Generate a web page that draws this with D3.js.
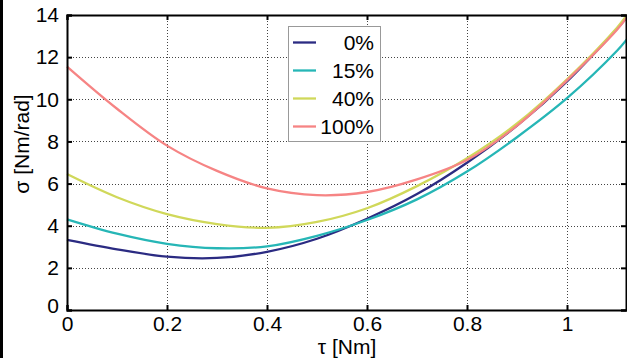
<!DOCTYPE html>
<html>
<head>
<meta charset="utf-8">
<script src="https://cdn.jsdelivr.net/npm/d3@7"></script>
<style>
  body { margin: 0; background: #fff; }
  svg { display: block; font-family: "Liberation Sans", Arial, sans-serif; }
</style>
</head>
<body>
<svg width="627" height="358"></svg>
<script>
// torque samples (x) and stiffness per series (y)
const tau = [0, 0.1, 0.2, 0.3, 0.4, 0.5, 0.6, 0.7, 0.8, 0.9, 1.0, 1.1, 1.12]
const sigma0 = [3.33, 2.88, 2.53, 2.47, 2.76, 3.38, 4.33, 5.5, 6.99, 8.75, 10.85, 13.35, 13.9]
const sigma15 = [4.3, 3.62, 3.14, 2.93, 3.02, 3.52, 4.27, 5.25, 6.57, 8.2, 10.05, 12.3, 12.85]
const sigma40 = [6.45, 5.35, 4.55, 4.08, 3.9, 4.18, 4.83, 5.88, 7.2, 8.85, 10.95, 13.4, 14.0]
const sigma100 = [11.55, 9.55, 7.8, 6.6, 5.77, 5.45, 5.6, 6.2, 7.12, 8.75, 10.9, 13.3, 13.9]
const seriesNames = ["0%", "15%", "40%", "100%"]
const xTicks = [0, 0.2, 0.4, 0.6, 0.8, 1]
const yTicks = [0, 2, 4, 6, 8, 10, 12, 14]

const colors = ["#2b2b82", "#26b6b6", "#d0d85a", "#f68484"]
const allSeries = [sigma0, sigma15, sigma40, sigma100]
const fs = 21

const svg = d3.select("svg")
const m = { left: 67, top: 15, right: 627, bottom: 310 }

const x = d3.scaleLinear().domain([0, 1.12]).range([m.left, m.right])
const y = d3.scaleLinear().domain([0, 14]).range([m.bottom, m.top])

// black strip at left edge
svg.append("rect").attr("x", 0).attr("y", 0).attr("width", 3).attr("height", 358).attr("fill", "#000")

// grid
const grid = svg.append("g").attr("stroke", "#444").attr("stroke-width", 1).attr("stroke-dasharray", "1,2")
grid.selectAll(".gx").data(xTicks.slice(1)).enter().append("line")
	.attr("x1", d => Math.round(x(d)) + 0.5).attr("x2", d => Math.round(x(d)) + 0.5)
	.attr("y1", m.top).attr("y2", m.bottom)
grid.selectAll(".gy").data(yTicks.slice(1, -1)).enter().append("line")
	.attr("y1", d => Math.round(y(d)) + 0.5).attr("y2", d => Math.round(y(d)) + 0.5)
	.attr("x1", m.left).attr("x2", m.right)

// curves
const line = d3.line()
	.x((d, i) => x(tau[i]))
	.y(d => y(d))
	.curve(d3.curveCatmullRom.alpha(0.5))

const plot = svg.append("g")
allSeries.forEach((s, k) => {
	plot.append("path")
		.attr("d", line(s))
		.attr("fill", "none")
		.attr("stroke", colors[k])
		.attr("stroke-width", 2.3)
})

// axes (ticks inward), mirrored on top and right
const fmt = d => d3.format("~g")(d)
const bottomAxis = svg.append("g").attr("transform", `translate(0,${m.bottom})`)
	.call(d3.axisBottom(x).tickValues(xTicks).tickSize(-5).tickPadding(10).tickFormat(fmt))
const leftAxis = svg.append("g").attr("transform", `translate(${m.left},0)`)
	.call(d3.axisLeft(y).tickValues(yTicks).tickSize(-5).tickPadding(8).tickFormat(fmt))
const topAxis = svg.append("g").attr("transform", `translate(0,${m.top})`)
	.call(d3.axisTop(x).tickValues(xTicks).tickSize(-5).tickFormat(""))
const rightAxis = svg.append("g").attr("transform", `translate(${m.right - 1},0)`)
	.call(d3.axisRight(y).tickValues(yTicks).tickSize(-5).tickFormat(""))

for (const a of [bottomAxis, leftAxis, topAxis, rightAxis]) {
	a.attr("font-size", fs).attr("font-family", "Liberation Sans, Arial, sans-serif")
	a.select(".domain").attr("stroke", "#000").attr("stroke-width", 2)
	a.selectAll(".tick line").attr("stroke", "#000").attr("stroke-width", 2)
	a.selectAll("text").attr("fill", "#000").style("font-size", fs + "px")
}
// 0 labels sit on the corner as in the original
leftAxis.selectAll(".tick text").filter(d => d === 0).attr("dy", "0.1em")
bottomAxis.selectAll(".tick text").attr("dy", "0.5em")

// axis titles
svg.append("text")
	.attr("x", x(0.56)).attr("y", 354)
	.attr("text-anchor", "middle").style("font-size", fs + "px")
	.text("τ [Nm]")
svg.append("text")
	.attr("transform", "translate(29,144) rotate(-90)")
	.attr("text-anchor", "middle").style("font-size", fs + "px")
	.text("σ [Nm/rad]")

// legend
const legend = svg.append("g")
legend.append("rect")
	.attr("x", 288.5).attr("y", 26.5).attr("width", 92).attr("height", 115)
	.attr("fill", "#fff").attr("stroke", "#999").attr("stroke-width", 1)
seriesNames.forEach((name, k) => {
	const cy = 42.5 + k * 28
	legend.append("line")
		.attr("x1", 293).attr("x2", 316).attr("y1", cy).attr("y2", cy)
		.attr("stroke", colors[k]).attr("stroke-width", 2.3)
	legend.append("text")
		.attr("x", 374).attr("y", cy).attr("dy", "0.36em")
		.attr("text-anchor", "end").style("font-size", fs + "px")
		.text(name)
})
</script>
</body>
</html>
